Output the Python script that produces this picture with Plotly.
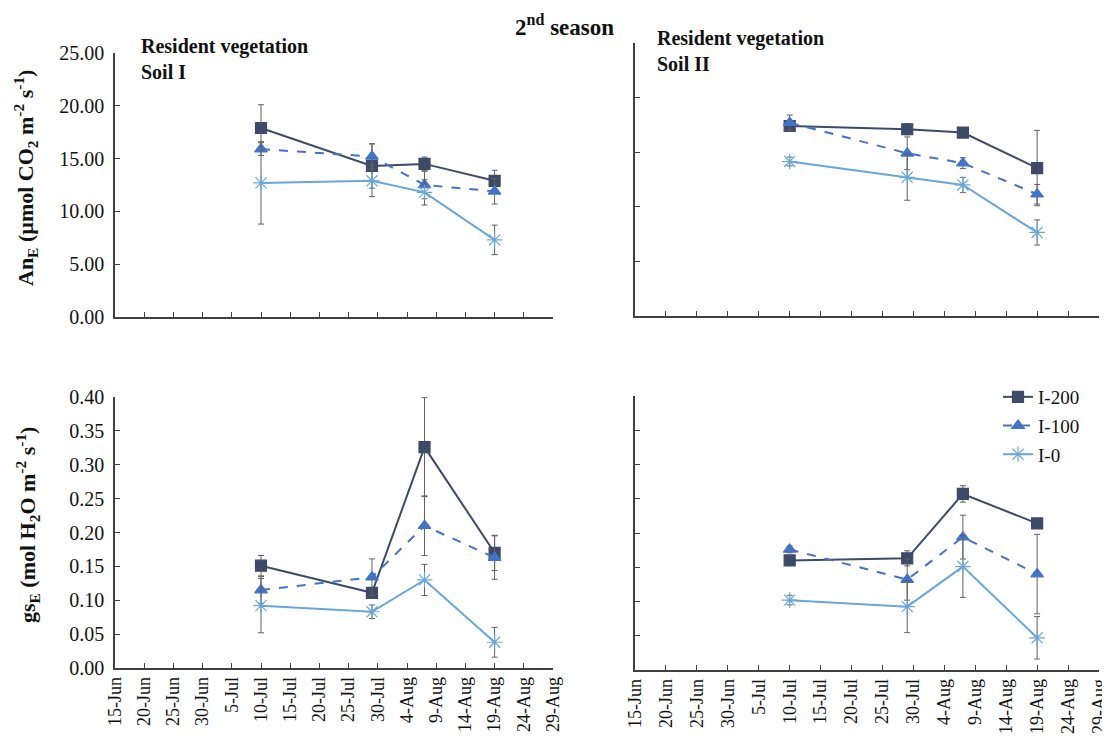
import plotly.graph_objects as go

# ---------------- data ----------------
dates = ["2011-07-10", "2011-07-29", "2011-08-07", "2011-08-19"]
series_names = ["I-200", "I-100", "I-0"]

# An_E, Soil I
an_s1_i200 = [17.9, 14.3, 14.5, 12.9]
an_s1_i200_err = [2.2, 2.1, 0.65, 1.0]
an_s1_i100 = [15.9, 15.2, 12.5, 11.9]
an_s1_i100_err = [0.6, 1.2, 1.3, 1.2]
an_s1_i0 = [12.7, 12.9, 11.8, 7.3]
an_s1_i0_err = [3.9, 1.5, 1.2, 1.4]

# An_E, Soil II
an_s2_i200 = [17.4, 17.1, 16.8, 13.55]
an_s2_i200_err = [0.3, 0.5, 0.3, 3.45]
an_s2_i100 = [17.7, 14.9, 14.0, 11.15]
an_s2_i100_err = [0.7, 1.5, 0.5, 0.9]
an_s2_i0 = [14.15, 12.7, 12.0, 7.65]
an_s2_i0_err = [0.4, 2.1, 0.7, 1.15]

# gs_E, Soil I
gs_s1_i200 = [0.151, 0.111, 0.326, 0.170]
gs_s1_i200_err = [0.015, 0.005, 0.073, 0.026]
gs_s1_i100 = [0.115, 0.134, 0.210, 0.163]
gs_s1_i100_err = [0.020, 0.027, 0.044, 0.032]
gs_s1_i0 = [0.092, 0.083, 0.130, 0.038]
gs_s1_i0_err = [0.040, 0.010, 0.023, 0.022]

# gs_E, Soil II
gs_s2_i200 = [0.160, 0.163, 0.257, 0.214]
gs_s2_i200_err = [0.005, 0.011, 0.012, 0.005]
gs_s2_i100 = [0.176, 0.132, 0.194, 0.140]
gs_s2_i100_err = [0.005, 0.030, 0.032, 0.058]
gs_s2_i0 = [0.102, 0.0925, 0.151, 0.047]
gs_s2_i0_err = [0.007, 0.038, 0.045, 0.031]

x_range = ["2011-06-15", "2011-08-29"]
an_range = [0, 25]
gs_range = [0, 0.4]

# ---------------- styles ----------------
FONT = "Liberation Serif"
AXC = "#404040"
ERRC = "#606060"
styles = {
    "I-200": dict(color="#3d4b68", dash="solid", symbol="square", size=11),
    "I-100": dict(color="#4472c4", dash="dash", symbol="triangle-up", size=11),
    "I-0": dict(color="#6aa6dc", dash="solid", symbol="asterisk-open", size=13),
}

OFF = 8  # page body margin
W, H = 1110 - OFF, 737 - OFF

def fx(px):
    return (px - OFF) / W

def fy(py):
    return 1 - (py - OFF) / H

def px_x(a, b):
    return [fx(a), fx(b)]

def px_y(top, bottom):
    return [fy(bottom), fy(top)]

fig = go.Figure()

panels = [
    ("x", "y", [an_s1_i200, an_s1_i100, an_s1_i0], [an_s1_i200_err, an_s1_i100_err, an_s1_i0_err], False),
    ("x2", "y2", [an_s2_i200, an_s2_i100, an_s2_i0], [an_s2_i200_err, an_s2_i100_err, an_s2_i0_err], False),
    ("x3", "y3", [gs_s1_i200, gs_s1_i100, gs_s1_i0], [gs_s1_i200_err, gs_s1_i100_err, gs_s1_i0_err], False),
    ("x4", "y4", [gs_s2_i200, gs_s2_i100, gs_s2_i0], [gs_s2_i200_err, gs_s2_i100_err, gs_s2_i0_err], True),
]

for xa, ya, vals, errs, show in panels:
    for name, v, e in zip(series_names, vals, errs):
        st = styles[name]
        fig.add_trace(go.Scatter(
            x=dates, y=v, xaxis=xa, yaxis=ya, name=name, mode="lines+markers",
            line=dict(color=st["color"], width=2, dash=st["dash"]),
            marker=dict(symbol=st["symbol"], size=st["size"], color=st["color"],
                        line=dict(color=st["color"], width=1.2)),
            error_y=dict(type="data", array=e, visible=True, color=ERRC, thickness=1, width=3),
            showlegend=show, legendgroup=name,
        ))

tickfont = dict(family=FONT, size=20, color="#111111")
xtickfont = dict(family=FONT, size=18, color="#111111")

def xaxis(domain, anchor, labels):
    return dict(domain=domain, anchor=anchor, type="date", range=x_range,
                tick0="2011-06-15", dtick=5 * 86400000, tickformat="%-d-%b",
                tickangle=-90, showticklabels=labels, ticks="inside", ticklen=5,
                tickcolor=AXC, showline=True, linecolor=AXC, linewidth=1.5,
                showgrid=False, zeroline=False, tickfont=xtickfont, automargin=False,
                ticklabeloverflow="allow")

def yaxis(domain, anchor, rng, dtick, labels):
    return dict(domain=domain, anchor=anchor, range=rng, dtick=dtick, tickformat=".2f",
                showticklabels=labels, ticks="inside", ticklen=5, tickcolor=AXC,
                showline=True, linecolor=AXC, linewidth=1.5, showgrid=False,
                zeroline=False, tickfont=tickfont, automargin=False,
                ticklabelstandoff=5)

fig.update_layout(
    width=W, height=H, margin=dict(l=0, r=0, t=0, b=0, autoexpand=False),
    paper_bgcolor="white", plot_bgcolor="white",
    font=dict(family=FONT, color="#111111"),
    xaxis=xaxis(px_x(115, 553), "y", False),
    yaxis=yaxis(px_y(53, 317), "x", an_range, 5, True),
    xaxis2=xaxis(px_x(635, 1099), "y2", False),
    yaxis2=yaxis(px_y(43, 316), "x2", an_range, 5, False),
    xaxis3=xaxis(px_x(115, 553), "y3", True),
    yaxis3=yaxis(px_y(397, 668), "x3", gs_range, 0.05, True),
    xaxis4=xaxis(px_x(635, 1099), "y4", True),
    yaxis4=yaxis(px_y(396, 670), "x4", gs_range, 0.05, False),
    legend=dict(x=fx(998), y=fy(378), xanchor="left", yanchor="top",
                font=dict(family=FONT, size=19, color="#111111"),
                bgcolor="rgba(0,0,0,0)", tracegroupgap=1, itemwidth=30),
)

ann = [
    dict(text="<b>2<sup>nd</sup> season</b>", x=fx(564), y=fy(25), font=dict(size=23)),
    dict(text="<b>Resident vegetation<br>Soil I</b>", x=fx(139), y=fy(33),
         xanchor="left", yanchor="top", align="left", font=dict(size=20)),
    dict(text="<b>Resident vegetation<br>Soil II</b>", x=fx(655), y=fy(25),
         xanchor="left", yanchor="top", align="left", font=dict(size=20)),
    dict(text="<b>An<sub>E</sub> (µmol CO<sub>2</sub> m<sup>-2</sup> s<sup>-1</sup>)</b>",
         x=fx(26), y=fy(178), textangle=-90, font=dict(size=22)),
    dict(text="<b>gs<sub>E</sub> (mol H<sub>2</sub>O m<sup>-2</sup> s<sup>-1</sup>)</b>",
         x=fx(27), y=fy(525), textangle=-90, font=dict(size=22)),
]
for a in ann:
    a.setdefault("xanchor", "center")
    a.setdefault("yanchor", "middle")
    a.update(xref="paper", yref="paper", showarrow=False)
    a["font"] = dict(family=FONT, color="#111111", **a["font"])
fig.update_layout(annotations=ann)

fig.write_html("out.html")
